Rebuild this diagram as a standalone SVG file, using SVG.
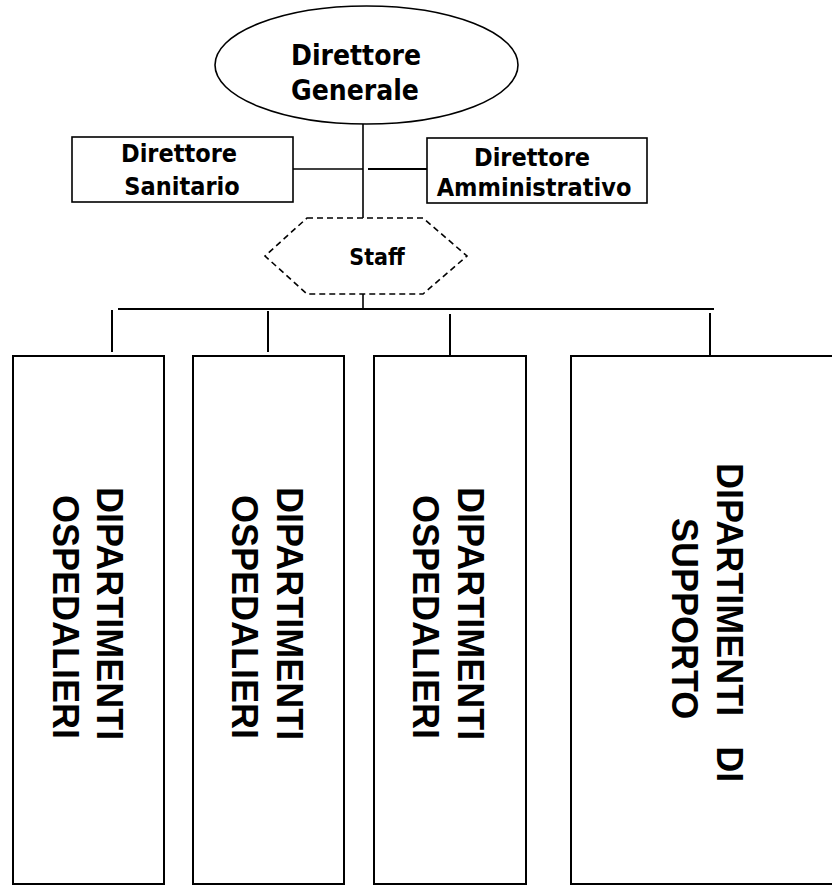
<svg xmlns="http://www.w3.org/2000/svg" width="832" height="885" viewBox="0 0 832 885">
  <style>
    .lbl { font-family: "DejaVu Sans Condensed", "DejaVu Sans", sans-serif; font-stretch: condensed; font-weight: bold; fill: #000; text-anchor: middle; }
    .dept { font-family: "Liberation Sans", Arial, sans-serif; font-weight: bold; font-size: 36px; fill: #000; white-space: pre; }
    .box { fill: #fff; stroke: #000; stroke-width: 2; }
    .thin { fill: #fff; stroke: #000; stroke-width: 1.6; }
    .dash { fill: #fff; stroke: #000; stroke-width: 1.6; stroke-dasharray: 6 4; }
    .wire { fill: none; stroke: #000; stroke-width: 2; }
  </style>
  <rect width="832" height="885" fill="#fff"/>

  <!-- connectors -->
  <g id="connectors">
    <line class="wire" x1="363" y1="124" x2="363" y2="218" style="stroke-width:1.6"/>
    <line class="wire" x1="293" y1="169" x2="363" y2="169" style="stroke-width:1.6"/>
    <line class="wire" x1="368" y1="169" x2="427" y2="169"/>
    <line class="wire" x1="363" y1="294" x2="363" y2="309" style="stroke-width:1.6"/>
    <line class="wire" x1="118" y1="309" x2="714" y2="309"/>
    <line class="wire" x1="112" y1="310" x2="112" y2="352"/>
    <line class="wire" x1="268" y1="311" x2="268" y2="352"/>
    <line class="wire" x1="450" y1="314" x2="450" y2="356"/>
    <line class="wire" x1="710" y1="313" x2="710" y2="356"/>
  </g>

  <!-- director general -->
  <g id="dg">
    <ellipse class="thin" cx="366.5" cy="65" rx="151.5" ry="59"/>
    <text class="lbl" x="356" y="65" font-size="28">Direttore</text>
    <text class="lbl" x="355" y="100" font-size="28">Generale</text>
  </g>

  <!-- medical director -->
  <g id="ds">
    <rect class="thin" x="72" y="137" width="221" height="65"/>
    <text class="lbl" x="179" y="162" font-size="25">Direttore</text>
    <text class="lbl" x="182" y="195" font-size="25">Sanitario</text>
  </g>

  <!-- administrative director -->
  <g id="da">
    <rect class="thin" x="427" y="138" width="220" height="65"/>
    <text class="lbl" x="532" y="166" font-size="25">Direttore</text>
    <text class="lbl" x="534" y="196" font-size="25">Amministrativo</text>
  </g>

  <!-- staff -->
  <g id="staff">
    <polygon class="dash" points="307,218 423,218 467,256 423,294 307,294 265,256"/>
    <text class="lbl" x="377" y="265" font-size="23">Staff</text>
  </g>

  <!-- departments -->
  <g id="dept1">
    <rect class="box" x="13" y="356" width="151" height="528"/>
    <text class="dept" transform="translate(97,487) rotate(90)">DIPARTIMENTI</text>
    <text class="dept" transform="translate(53,495) rotate(90)">OSPEDALIERI</text>
  </g>
  <g id="dept2">
    <rect class="box" x="193" y="356" width="151" height="528"/>
    <text class="dept" transform="translate(277,487) rotate(90)">DIPARTIMENTI</text>
    <text class="dept" transform="translate(232,495) rotate(90)">OSPEDALIERI</text>
  </g>
  <g id="dept3">
    <rect class="box" x="374" y="356" width="152" height="528"/>
    <text class="dept" transform="translate(458,487) rotate(90)">DIPARTIMENTI</text>
    <text class="dept" transform="translate(413,495) rotate(90)">OSPEDALIERI</text>
  </g>
  <g id="dept4">
    <rect class="box" x="571" y="356" width="270" height="528"/>
    <text class="dept" transform="translate(717,463) rotate(90)">DIPARTIMENTI   DI</text>
    <text class="dept" transform="translate(672,518) rotate(90)">SUPPORTO</text>
  </g>
</svg>
